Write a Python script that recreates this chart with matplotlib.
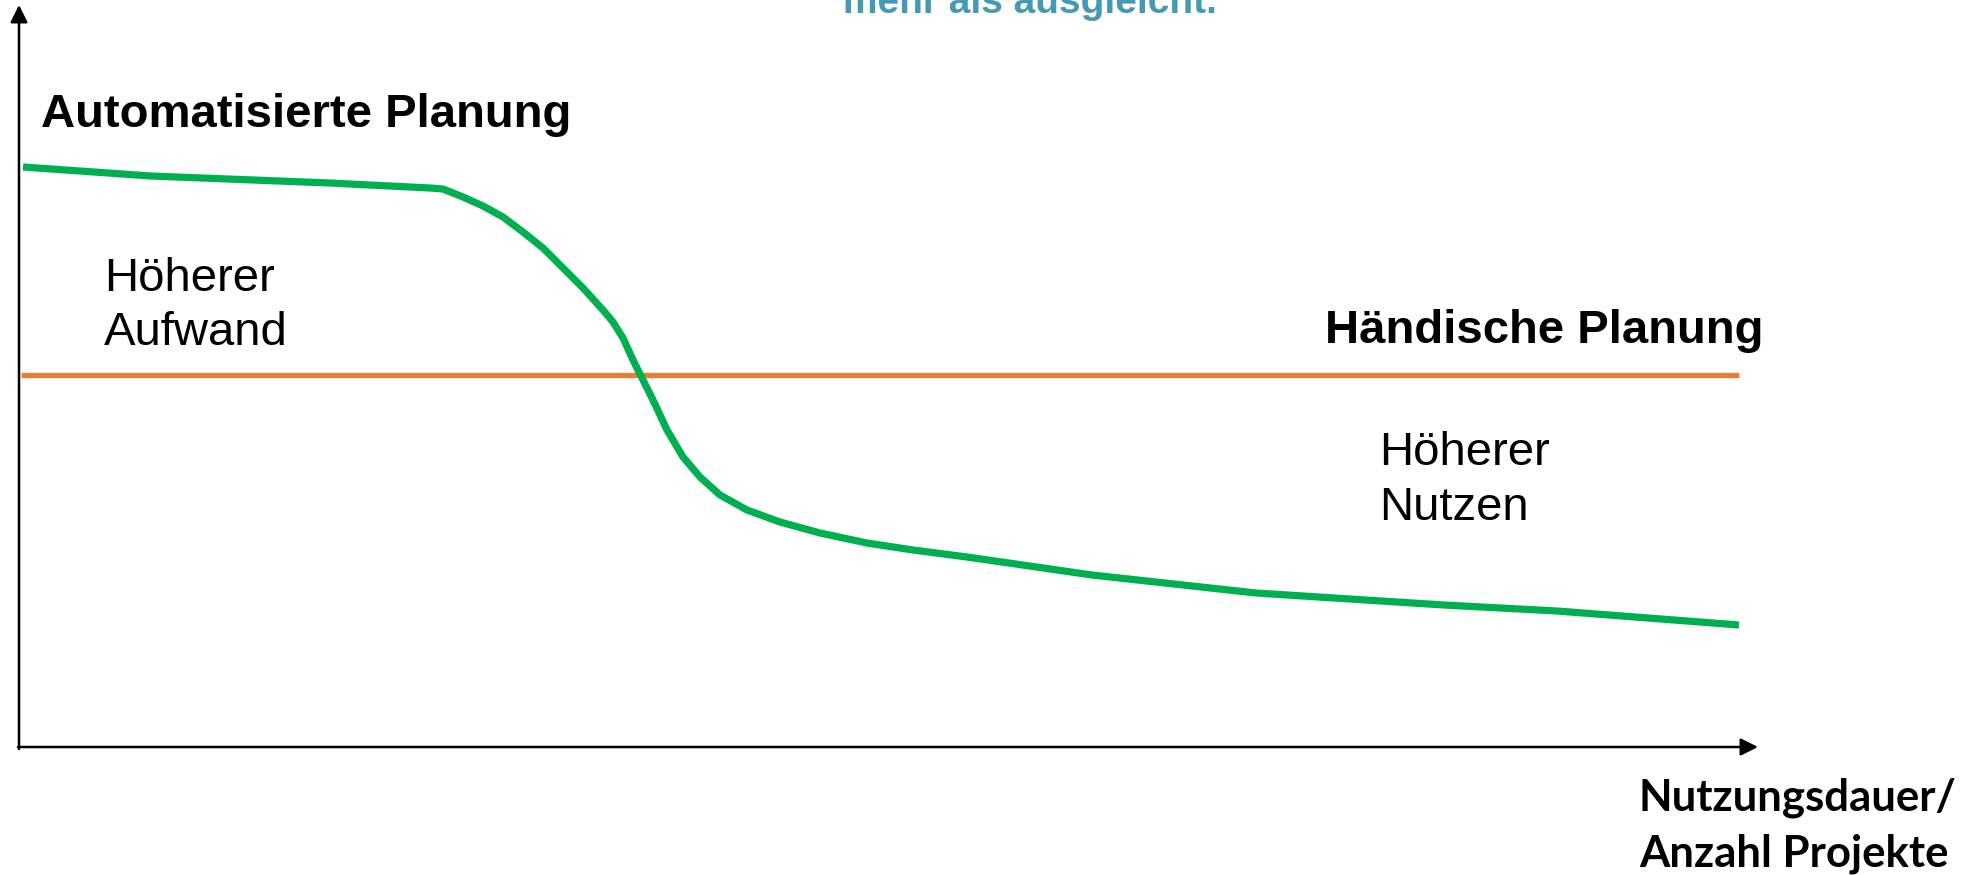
"""Aufwand/Nutzen: automatisierte vs. händische Planung (Schema)."""
import matplotlib
matplotlib.use("Agg")
import matplotlib.pyplot as plt

# green curve (automatisierte Planung) in pixel coords
auto_x = [23, 151, 330, 430, 443, 463, 483, 503, 523, 543, 563, 583, 603, 613,
          623, 633, 643, 653, 667, 683, 700, 720, 747, 780, 820, 867, 913, 967,
          1092, 1256, 1444, 1557, 1739]
auto_y = [167, 176, 183, 188, 189, 197, 206, 217, 232, 248, 268, 288, 310, 322,
          338, 360, 380, 400, 430, 457, 477, 495, 510, 522, 533, 543, 550, 557,
          575, 593, 605, 611, 625]

# orange line (händische Planung)
hand_x = [21, 1739]
hand_y = [375, 375]

W, H = 1969, 875
fig = plt.figure(figsize=(W / 100, H / 100), dpi=100)
ax = fig.add_axes([0, 0, 1, 1])
ax.set_xlim(0, W)
ax.set_ylim(H, 0)
ax.set_axis_off()

# axes with arrows
arrow = dict(arrowstyle="-|>", color="black", lw=1.8, mutation_scale=26,
             shrinkA=0, shrinkB=0)
ax.annotate("", xy=(19, 5), xytext=(19, 749), arrowprops=arrow)
ax.annotate("", xy=(1758, 747), xytext=(18, 747), arrowprops=arrow)

ax.plot(hand_x, hand_y, color="#ED7D31", linewidth=3.8, solid_capstyle="butt")
ax.plot(auto_x, auto_y, color="#00B050", linewidth=5.2, solid_capstyle="butt",
        solid_joinstyle="round")

sans = "Liberation Sans"
ax.text(1030, 13, "mehr als ausgleicht.", color="#4599B3", fontsize=28,
        fontweight="bold", family=sans, ha="center", va="baseline")
ax.text(41, 127, "Automatisierte Planung", fontsize=34, fontweight="bold",
        family=sans, va="baseline")
ax.text(104, 291, "Höherer", fontsize=34, family=sans, va="baseline")
ax.text(104, 345, "Aufwand", fontsize=34, family=sans, va="baseline")
ax.text(1325, 343, "Händische Planung", fontsize=34, fontweight="bold",
        family=sans, va="baseline")
ax.text(1379, 465, "Höherer", fontsize=34, family=sans, va="baseline")
ax.text(1379, 520, "Nutzen", fontsize=34, family=sans, va="baseline")
ax.text(1639, 811, "Nutzungsdauer/", fontsize=31.5, fontweight="bold",
        family="Lato", va="baseline")
ax.text(1639, 866, "Anzahl Projekte", fontsize=31.5, fontweight="bold",
        family="Lato", va="baseline")

fig.savefig("out.png", dpi=100)
